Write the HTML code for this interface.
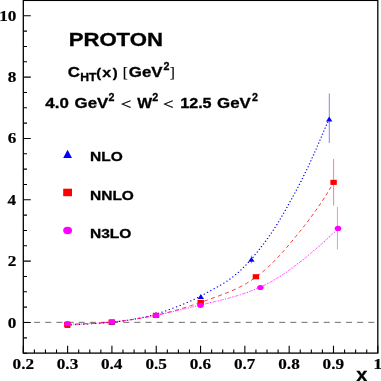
<!DOCTYPE html>
<html><head><meta charset="utf-8"><title>Proton</title>
<style>
html,body{margin:0;padding:0;background:#fff;}
body{width:381px;height:381px;overflow:hidden;font-family:"Liberation Sans",sans-serif;}
svg{display:block;will-change:transform;}
</style></head><body>
<svg width="381" height="381" viewBox="0 0 381 381">
<rect width="381" height="381" fill="#fff"/>
<line x1="22.96" y1="322.35" x2="377.8" y2="322.35" stroke="#222" stroke-width="0.66" stroke-dasharray="6.0 5.14"/>
<g transform="scale(1.28,1)" fill="none">
<path d="M52.73,325.11 L54.45,324.99 L56.17,324.86 L57.89,324.74 L59.60,324.62 L61.32,324.50 L63.04,324.38 L64.76,324.26 L66.47,324.14 L68.19,324.02 L69.91,323.89 L71.63,323.76 L73.34,323.62 L75.06,323.48 L76.78,323.33 L78.50,323.17 L80.21,323.00 L81.93,322.83 L83.65,322.64 L85.37,322.44 L87.08,322.23 L88.80,322.01 L90.52,321.77 L92.24,321.52 L93.95,321.25 L95.67,320.97 L97.39,320.67 L99.11,320.35 L100.82,320.02 L102.54,319.66 L104.26,319.28 L105.97,318.88 L107.69,318.46 L109.41,318.02 L111.13,317.55 L112.84,317.06 L114.56,316.54 L116.28,315.99 L118.00,315.42 L119.71,314.82 L121.43,314.19 L123.15,313.53 L124.87,312.84 L126.58,312.12 L128.30,311.38 L130.02,310.62 L131.74,309.83 L133.45,309.03 L135.17,308.21 L136.89,307.37 L138.61,306.52 L140.32,305.66 L142.04,304.77 L143.76,303.87 L145.48,302.94 L147.19,301.98 L148.91,300.99 L150.63,299.97 L152.35,298.92 L154.06,297.83 L155.78,296.71 L157.50,295.56 L159.22,294.39 L160.93,293.20 L162.65,292.00 L164.37,290.79 L166.09,289.58 L167.80,288.37 L169.52,287.15 L171.24,285.90 L172.95,284.61 L174.67,283.27 L176.39,281.87 L178.11,280.40 L179.82,278.85 L181.54,277.22 L183.26,275.50 L184.98,273.69 L186.69,271.77 L188.41,269.76 L190.13,267.64 L191.85,265.42 L193.56,263.10 L195.28,260.69 L197.00,258.19 L198.72,255.60 L200.43,252.93 L202.15,250.18 L203.87,247.36 L205.59,244.48 L207.30,241.54 L209.02,238.53 L210.74,235.43 L212.46,232.20 L214.17,228.86 L215.89,225.41 L217.61,221.86 L219.33,218.21 L221.04,214.47 L222.76,210.65 L224.48,206.76 L226.20,202.81 L227.91,198.79 L229.63,194.72 L231.35,190.61 L233.07,186.44 L234.78,182.19 L236.50,177.86 L238.22,173.41 L239.94,168.83 L241.65,164.14 L243.37,159.34 L245.09,154.44 L246.80,149.45 L248.52,144.39 L250.24,139.29 L251.96,134.15 L253.67,129.02 L255.39,123.90 L257.11,118.82" stroke="#0000ff" stroke-width="1.2" stroke-linecap="round" stroke-dasharray="0.01 3.13"/>
<path d="M52.73,324.37 L54.48,324.32 L56.23,324.26 L57.98,324.20 L59.72,324.13 L61.47,324.05 L63.22,323.97 L64.96,323.88 L66.71,323.78 L68.46,323.68 L70.20,323.56 L71.95,323.44 L73.70,323.31 L75.45,323.17 L77.19,323.03 L78.94,322.87 L80.69,322.70 L82.43,322.53 L84.18,322.34 L85.93,322.14 L87.67,321.93 L89.42,321.71 L91.17,321.48 L92.91,321.24 L94.66,320.99 L96.41,320.72 L98.16,320.44 L99.90,320.15 L101.65,319.84 L103.40,319.52 L105.14,319.19 L106.89,318.84 L108.64,318.48 L110.38,318.10 L112.13,317.71 L113.88,317.31 L115.63,316.89 L117.37,316.45 L119.12,315.99 L120.87,315.52 L122.61,315.04 L124.36,314.53 L126.11,314.01 L127.85,313.47 L129.60,312.92 L131.35,312.34 L133.10,311.75 L134.84,311.15 L136.59,310.53 L138.34,309.89 L140.08,309.24 L141.83,308.57 L143.58,307.89 L145.32,307.20 L147.07,306.50 L148.82,305.78 L150.57,305.05 L152.31,304.31 L154.06,303.56 L155.81,302.80 L157.55,302.03 L159.30,301.25 L161.05,300.47 L162.79,299.67 L164.54,298.87 L166.29,298.06 L168.04,297.24 L169.78,296.42 L171.53,295.59 L173.28,294.76 L175.02,293.92 L176.77,293.06 L178.52,292.17 L180.26,291.25 L182.01,290.30 L183.76,289.30 L185.50,288.25 L187.25,287.14 L189.00,285.97 L190.75,284.74 L192.49,283.44 L194.24,282.07 L195.99,280.63 L197.73,279.12 L199.48,277.53 L201.23,275.88 L202.97,274.15 L204.72,272.35 L206.47,270.47 L208.22,268.52 L209.96,266.48 L211.71,264.37 L213.46,262.18 L215.20,259.91 L216.95,257.56 L218.70,255.13 L220.44,252.64 L222.19,250.09 L223.94,247.49 L225.69,244.85 L227.43,242.17 L229.18,239.47 L230.93,236.75 L232.67,234.00 L234.42,231.23 L236.17,228.43 L237.91,225.58 L239.66,222.69 L241.41,219.76 L243.16,216.76 L244.90,213.70 L246.65,210.58 L248.40,207.38 L250.14,204.10 L251.89,200.73 L253.64,197.28 L255.38,193.72 L257.13,190.06 L258.88,186.29 L260.62,182.40" stroke="#ff0000" stroke-width="0.68" stroke-dasharray="3.4 2.7"/>
<path d="M52.73,324.09 L54.51,324.09 L56.29,324.09 L58.06,324.07 L59.84,324.03 L61.61,323.99 L63.39,323.93 L65.17,323.86 L66.94,323.78 L68.72,323.69 L70.49,323.58 L72.27,323.46 L74.04,323.33 L75.82,323.19 L77.60,323.04 L79.37,322.87 L81.15,322.69 L82.92,322.50 L84.70,322.30 L86.48,322.08 L88.25,321.85 L90.03,321.62 L91.80,321.37 L93.58,321.10 L95.36,320.83 L97.13,320.54 L98.91,320.24 L100.68,319.93 L102.46,319.61 L104.23,319.28 L106.01,318.93 L107.79,318.57 L109.56,318.20 L111.34,317.82 L113.11,317.43 L114.89,317.03 L116.67,316.61 L118.44,316.18 L120.22,315.74 L121.99,315.29 L123.77,314.83 L125.54,314.36 L127.32,313.87 L129.10,313.38 L130.87,312.87 L132.65,312.35 L134.42,311.83 L136.20,311.29 L137.98,310.76 L139.75,310.21 L141.53,309.66 L143.30,309.11 L145.08,308.56 L146.86,308.00 L148.63,307.45 L150.41,306.90 L152.18,306.35 L153.96,305.80 L155.73,305.25 L157.51,304.72 L159.29,304.18 L161.06,303.65 L162.84,303.12 L164.61,302.59 L166.39,302.06 L168.17,301.52 L169.94,300.97 L171.72,300.42 L173.49,299.86 L175.27,299.28 L177.05,298.69 L178.82,298.08 L180.60,297.46 L182.37,296.81 L184.15,296.15 L185.92,295.46 L187.70,294.74 L189.48,294.00 L191.25,293.23 L193.03,292.43 L194.80,291.60 L196.58,290.73 L198.36,289.83 L200.13,288.89 L201.91,287.91 L203.68,286.90 L205.46,285.84 L207.23,284.73 L209.01,283.58 L210.79,282.38 L212.56,281.14 L214.34,279.84 L216.11,278.49 L217.89,277.09 L219.67,275.64 L221.44,274.14 L223.22,272.60 L224.99,271.01 L226.77,269.39 L228.55,267.74 L230.32,266.05 L232.10,264.33 L233.87,262.58 L235.65,260.80 L237.42,258.99 L239.20,257.15 L240.98,255.28 L242.75,253.38 L244.53,251.46 L246.30,249.52 L248.08,247.54 L249.86,245.55 L251.63,243.52 L253.41,241.47 L255.18,239.38 L256.96,237.27 L258.73,235.12 L260.51,232.95 L262.29,230.74 L264.06,228.50" stroke="#ff00ff" stroke-width="0.5" stroke-dasharray="3.2 2.9"/>
<path d="M52.73,324.09 L54.51,324.09 L56.29,324.09 L58.06,324.07 L59.84,324.03 L61.61,323.99 L63.39,323.93 L65.17,323.86 L66.94,323.78 L68.72,323.69 L70.49,323.58 L72.27,323.46 L74.04,323.33 L75.82,323.19 L77.60,323.04 L79.37,322.87 L81.15,322.69 L82.92,322.50 L84.70,322.30 L86.48,322.08 L88.25,321.85 L90.03,321.62 L91.80,321.37 L93.58,321.10 L95.36,320.83 L97.13,320.54 L98.91,320.24 L100.68,319.93 L102.46,319.61 L104.23,319.28 L106.01,318.93 L107.79,318.57 L109.56,318.20 L111.34,317.82 L113.11,317.43 L114.89,317.03 L116.67,316.61 L118.44,316.18 L120.22,315.74 L121.99,315.29 L123.77,314.83 L125.54,314.36 L127.32,313.87 L129.10,313.38 L130.87,312.87 L132.65,312.35 L134.42,311.83 L136.20,311.29 L137.98,310.76 L139.75,310.21 L141.53,309.66 L143.30,309.11 L145.08,308.56 L146.86,308.00 L148.63,307.45 L150.41,306.90 L152.18,306.35 L153.96,305.80 L155.73,305.25 L157.51,304.72 L159.29,304.18 L161.06,303.65 L162.84,303.12 L164.61,302.59 L166.39,302.06 L168.17,301.52 L169.94,300.97 L171.72,300.42 L173.49,299.86 L175.27,299.28 L177.05,298.69 L178.82,298.08 L180.60,297.46 L182.37,296.81 L184.15,296.15 L185.92,295.46 L187.70,294.74 L189.48,294.00 L191.25,293.23 L193.03,292.43 L194.80,291.60 L196.58,290.73 L198.36,289.83 L200.13,288.89 L201.91,287.91 L203.68,286.90 L205.46,285.84 L207.23,284.73 L209.01,283.58 L210.79,282.38 L212.56,281.14 L214.34,279.84 L216.11,278.49 L217.89,277.09 L219.67,275.64 L221.44,274.14 L223.22,272.60 L224.99,271.01 L226.77,269.39 L228.55,267.74 L230.32,266.05 L232.10,264.33 L233.87,262.58 L235.65,260.80 L237.42,258.99 L239.20,257.15 L240.98,255.28 L242.75,253.38 L244.53,251.46 L246.30,249.52 L248.08,247.54 L249.86,245.55 L251.63,243.52 L253.41,241.47 L255.18,239.38 L256.96,237.27 L258.73,235.12 L260.51,232.95 L262.29,230.74 L264.06,228.50" stroke="#ff00ff" stroke-width="1.0" stroke-dasharray="0.7 5.4" stroke-dashoffset="-4.3"/>
</g>
<line x1="329.3" y1="93.5" x2="329.3" y2="143" stroke="#0000ff" stroke-width="0.5"/>
<line x1="333.6" y1="159" x2="333.6" y2="205.5" stroke="#ff0000" stroke-width="0.5"/>
<line x1="337.45" y1="207" x2="337.45" y2="249.4" stroke="#ff00ff" stroke-width="0.5"/>
<line x1="251.4" y1="255.6" x2="251.4" y2="263.3" stroke="#0000ff" stroke-width="0.5"/>
<polygon points="64.3,327.8 70.7,327.8 67.5,322.9" fill="#0000ff"/>
<polygon points="108.6,324.8 115.0,324.8 111.8,319.9" fill="#0000ff"/>
<polygon points="152.8,316.8 159.2,316.8 156.0,311.9" fill="#0000ff"/>
<polygon points="197.7,298.9 204.0,298.9 200.8,294.1" fill="#0000ff"/>
<polygon points="248.2,261.8 254.6,261.8 251.4,256.9" fill="#0000ff"/>
<polygon points="326.1,121.4 332.3,121.4 329.2,116.5" fill="#0000ff"/>
<rect x="64.1" y="321.8" width="6.4" height="5.1" fill="#ff0000"/>
<rect x="108.6" y="319.4" width="6.4" height="5.1" fill="#ff0000"/>
<rect x="152.8" y="312.8" width="6.4" height="5.1" fill="#ff0000"/>
<rect x="197.5" y="299.9" width="6.4" height="5.1" fill="#ff0000"/>
<rect x="252.7" y="274.2" width="6.4" height="5.1" fill="#ff0000"/>
<rect x="330.4" y="179.8" width="6.4" height="5.1" fill="#ff0000"/>
<ellipse cx="67.5" cy="323.5" rx="3.25" ry="2.6" fill="#ff00ff"/>
<ellipse cx="112.0" cy="321.8" rx="3.25" ry="2.6" fill="#ff00ff"/>
<ellipse cx="156.0" cy="315.4" rx="3.25" ry="2.6" fill="#ff00ff"/>
<ellipse cx="200.5" cy="305.3" rx="3.25" ry="2.6" fill="#ff00ff"/>
<ellipse cx="260.4" cy="287.5" rx="3.25" ry="2.6" fill="#ff00ff"/>
<ellipse cx="338.0" cy="228.4" rx="3.25" ry="2.6" fill="#ff00ff"/>
<polygon points="63.2,158.0 72.0,158.0 67.6,149.8" fill="#0000ff"/>
<rect x="63.2" y="188.7" width="8.8" height="7.5" fill="#ff0000"/>
<ellipse cx="67.6" cy="230.5" rx="4.4" ry="3.7" fill="#ff00ff"/>
<rect x="23.3" y="0.4" width="354.5" height="352.70000000000005" fill="none" stroke="#000" stroke-width="1.3"/>
<path d="M23.30,353.1 v-7.3 M34.38,353.1 v-3.7 M45.46,353.1 v-3.7 M56.53,353.1 v-3.7 M67.61,353.1 v-7.3 M78.69,353.1 v-3.7 M89.77,353.1 v-3.7 M100.85,353.1 v-3.7 M111.92,353.1 v-7.3 M123.00,353.1 v-3.7 M134.08,353.1 v-3.7 M145.16,353.1 v-3.7 M156.24,353.1 v-7.3 M167.32,353.1 v-3.7 M178.39,353.1 v-3.7 M189.47,353.1 v-3.7 M200.55,353.1 v-7.3 M211.63,353.1 v-3.7 M222.71,353.1 v-3.7 M233.78,353.1 v-3.7 M244.86,353.1 v-7.3 M255.94,353.1 v-3.7 M267.02,353.1 v-3.7 M278.10,353.1 v-3.7 M289.18,353.1 v-7.3 M300.25,353.1 v-3.7 M311.33,353.1 v-3.7 M322.41,353.1 v-3.7 M333.49,353.1 v-7.3 M344.57,353.1 v-3.7 M355.64,353.1 v-3.7 M366.72,353.1 v-3.7 M377.80,353.1 v-7.3 M23.3,353.18 h3.7 M23.3,337.84 h3.7 M23.3,322.50 h7.5 M23.3,307.16 h3.7 M23.3,291.82 h3.7 M23.3,276.49 h3.7 M23.3,261.15 h7.5 M23.3,245.81 h3.7 M23.3,230.47 h3.7 M23.3,215.14 h3.7 M23.3,199.80 h7.5 M23.3,184.46 h3.7 M23.3,169.12 h3.7 M23.3,153.79 h3.7 M23.3,138.45 h7.5 M23.3,123.11 h3.7 M23.3,107.78 h3.7 M23.3,92.44 h3.7 M23.3,77.10 h7.5 M23.3,61.76 h3.7 M23.3,46.43 h3.7 M23.3,31.09 h3.7 M23.3,15.75 h7.5 M23.3,0.41 h3.7" stroke="#000" stroke-width="1.1" fill="none"/>
<text transform="translate(68.65,46.2) scale(1.23,1)" font-family="'Liberation Sans', sans-serif" font-weight="bold" font-size="18.0" stroke="#000" stroke-width="0.3">PROTON</text>
<text transform="translate(67.86,77.2) scale(1.18,1)" font-family="'Liberation Sans', sans-serif" font-weight="bold" font-size="14.3" stroke="#000" stroke-width="0.3">C</text>
<text transform="translate(80.17,81.2) scale(1.18,1)" font-family="'Liberation Sans', sans-serif" font-weight="bold" font-size="10.3" stroke="#000" stroke-width="0.3">HT</text>
<text transform="translate(96.15,77.0) scale(1.1,1)" font-family="'Liberation Sans', sans-serif" font-weight="bold" font-size="13.3" stroke="#000" stroke-width="0.3">(</text>
<text transform="translate(102.33,77.0) scale(1.2,1)" font-family="'Liberation Sans', sans-serif" font-weight="bold" font-size="13.3" stroke="#000" stroke-width="0.3">x</text>
<text transform="translate(112.74,77.0) scale(1.1,1)" font-family="'Liberation Sans', sans-serif" font-weight="bold" font-size="13.3" stroke="#000" stroke-width="0.3">)</text>
<text transform="translate(122.78,76.7) scale(1.1,1)" font-family="'Liberation Serif', serif" font-weight="normal" font-size="14.0" stroke="#000" stroke-width="0.15">[</text>
<text transform="translate(128.77,77.0) scale(1.18,1)" font-family="'Liberation Sans', sans-serif" font-weight="bold" font-size="14.3" stroke="#000" stroke-width="0.3">GeV</text>
<text transform="translate(163.52,69.8) scale(0.92,1)" font-family="'Liberation Sans', sans-serif" font-weight="bold" font-size="11.7" stroke="#000" stroke-width="0.3">2</text>
<text transform="translate(169.83,76.7) scale(1.1,1)" font-family="'Liberation Serif', serif" font-weight="normal" font-size="14.0" stroke="#000" stroke-width="0.15">]</text>
<text transform="translate(45.34,107.7) scale(1.18,1)" font-family="'Liberation Sans', sans-serif" font-weight="bold" font-size="14.3" stroke="#000" stroke-width="0.3">4.0</text>
<text transform="translate(74.62,107.7) scale(1.18,1)" font-family="'Liberation Sans', sans-serif" font-weight="bold" font-size="14.3" stroke="#000" stroke-width="0.3">GeV</text>
<text transform="translate(108.62,100.9) scale(0.92,1)" font-family="'Liberation Sans', sans-serif" font-weight="bold" font-size="11.7" stroke="#000" stroke-width="0.3">2</text>
<text transform="translate(120.82,109.2) scale(1.32,1)" font-family="'Liberation Serif', serif" font-weight="normal" font-size="14" stroke="#000" stroke-width="0.35">&lt;</text>
<text transform="translate(137.20,107.7) scale(1.1,1)" font-family="'Liberation Sans', sans-serif" font-weight="bold" font-size="14.3" stroke="#000" stroke-width="0.3">W</text>
<text transform="translate(152.32,100.9) scale(0.92,1)" font-family="'Liberation Sans', sans-serif" font-weight="bold" font-size="11.7" stroke="#000" stroke-width="0.3">2</text>
<text transform="translate(163.02,109.2) scale(1.32,1)" font-family="'Liberation Serif', serif" font-weight="normal" font-size="14" stroke="#000" stroke-width="0.35">&lt;</text>
<text transform="translate(180.17,107.7) scale(1.13,1)" font-family="'Liberation Sans', sans-serif" font-weight="bold" font-size="14.3" stroke="#000" stroke-width="0.3">12.5</text>
<text transform="translate(217.02,107.7) scale(1.18,1)" font-family="'Liberation Sans', sans-serif" font-weight="bold" font-size="14.3" stroke="#000" stroke-width="0.3">GeV</text>
<text transform="translate(251.97,100.9) scale(0.92,1)" font-family="'Liberation Sans', sans-serif" font-weight="bold" font-size="11.7" stroke="#000" stroke-width="0.3">2</text>
<text transform="translate(90.02,161.2) scale(1.23,1)" font-family="'Liberation Sans', sans-serif" font-weight="bold" font-size="12.6" stroke="#000" stroke-width="0.3">NLO</text>
<text transform="translate(90.02,199.9) scale(1.23,1)" font-family="'Liberation Sans', sans-serif" font-weight="bold" font-size="12.6" stroke="#000" stroke-width="0.3">NNLO</text>
<text transform="translate(90.02,238.4) scale(1.23,1)" font-family="'Liberation Sans', sans-serif" font-weight="bold" font-size="12.6" stroke="#000" stroke-width="0.3">N3LO</text>
<text transform="translate(356.19,381.3) scale(1.05,1)" font-family="'Liberation Sans', sans-serif" font-weight="bold" font-size="19" stroke="#000" stroke-width="0.3">x</text>
<text transform="translate(7.83,327.5) scale(1.145,1)" font-family="'Liberation Serif', serif" font-weight="bold" font-size="15" stroke="#000" stroke-width="0.2">0</text>
<text transform="translate(7.83,266.1) scale(1.145,1)" font-family="'Liberation Serif', serif" font-weight="bold" font-size="15" stroke="#000" stroke-width="0.2">2</text>
<text transform="translate(7.40,204.8) scale(1.145,1)" font-family="'Liberation Serif', serif" font-weight="bold" font-size="15" stroke="#000" stroke-width="0.2">4</text>
<text transform="translate(7.68,143.4) scale(1.145,1)" font-family="'Liberation Serif', serif" font-weight="bold" font-size="15" stroke="#000" stroke-width="0.2">6</text>
<text transform="translate(7.68,82.1) scale(1.145,1)" font-family="'Liberation Serif', serif" font-weight="bold" font-size="15" stroke="#000" stroke-width="0.2">8</text>
<text transform="translate(-0.76,20.8) scale(1.145,1)" font-family="'Liberation Serif', serif" font-weight="bold" font-size="15" stroke="#000" stroke-width="0.2">10</text>
<text transform="translate(12.57,369.0) scale(1.145,1)" font-family="'Liberation Serif', serif" font-weight="bold" font-size="15" stroke="#000" stroke-width="0.2">0.2</text>
<text transform="translate(56.79,369.0) scale(1.145,1)" font-family="'Liberation Serif', serif" font-weight="bold" font-size="15" stroke="#000" stroke-width="0.2">0.3</text>
<text transform="translate(100.95,369.0) scale(1.145,1)" font-family="'Liberation Serif', serif" font-weight="bold" font-size="15" stroke="#000" stroke-width="0.2">0.4</text>
<text transform="translate(145.39,369.0) scale(1.145,1)" font-family="'Liberation Serif', serif" font-weight="bold" font-size="15" stroke="#000" stroke-width="0.2">0.5</text>
<text transform="translate(189.69,369.0) scale(1.145,1)" font-family="'Liberation Serif', serif" font-weight="bold" font-size="15" stroke="#000" stroke-width="0.2">0.6</text>
<text transform="translate(233.92,369.0) scale(1.145,1)" font-family="'Liberation Serif', serif" font-weight="bold" font-size="15" stroke="#000" stroke-width="0.2">0.7</text>
<text transform="translate(278.29,369.0) scale(1.145,1)" font-family="'Liberation Serif', serif" font-weight="bold" font-size="15" stroke="#000" stroke-width="0.2">0.8</text>
<text transform="translate(322.59,369.0) scale(1.145,1)" font-family="'Liberation Serif', serif" font-weight="bold" font-size="15" stroke="#000" stroke-width="0.2">0.9</text>
<text transform="translate(373.42,369.0) scale(1.145,1)" font-family="'Liberation Serif', serif" font-weight="bold" font-size="15" stroke="#000" stroke-width="0.2">1</text>
</svg>
</body></html>
